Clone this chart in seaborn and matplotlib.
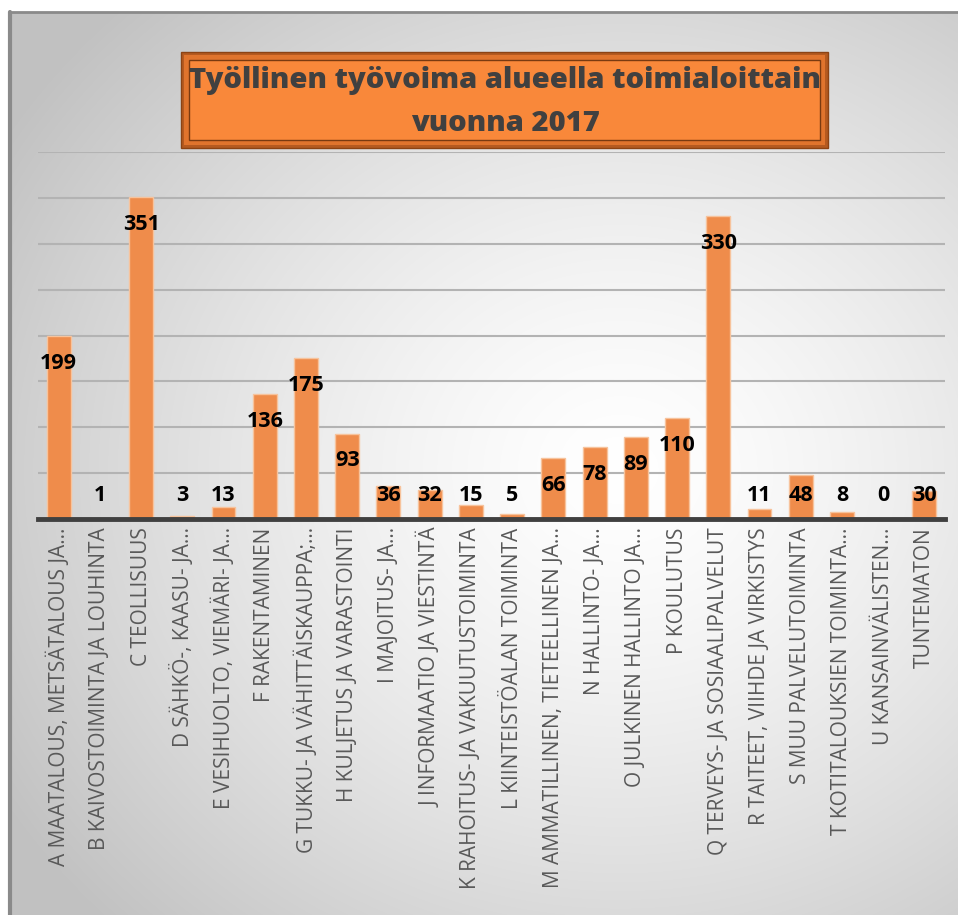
import numpy as np
import matplotlib.pyplot as plt
import seaborn as sns
from matplotlib.patches import Rectangle

# === data ===
categories = [
    "A MAATALOUS, METSÄTALOUS JA…",
    "B KAIVOSTOIMINTA JA LOUHINTA",
    "C TEOLLISUUS",
    "D SÄHKÖ-, KAASU- JA…",
    "E VESIHUOLTO, VIEMÄRI- JA…",
    "F RAKENTAMINEN",
    "G TUKKU- JA VÄHITTÄISKAUPPA;…",
    "H KULJETUS JA VARASTOINTI",
    "I MAJOITUS- JA…",
    "J INFORMAATIO JA VIESTINTÄ",
    "K RAHOITUS- JA VAKUUTUSTOIMINTA",
    "L KIINTEISTÖALAN TOIMINTA",
    "M AMMATILLINEN, TIETEELLINEN JA…",
    "N HALLINTO- JA…",
    "O JULKINEN HALLINTO JA…",
    "P KOULUTUS",
    "Q TERVEYS- JA SOSIAALIPALVELUT",
    "R TAITEET, VIIHDE JA VIRKISTYS",
    "S MUU PALVELUTOIMINTA",
    "T KOTITALOUKSIEN TOIMINTA…",
    "U KANSAINVÄLISTEN…",
    "TUNTEMATON",
]
values = [199, 1, 351, 3, 13, 136, 175, 93, 36, 32, 15, 5,
          66, 78, 89, 110, 330, 11, 48, 8, 0, 30]
title = "Työllinen työvoima alueella toimialoittain\nvuonna 2017"

sns.set_theme(style="white")
plt.rcParams['font.family'] = ['Open Sans', 'DejaVu Sans']

W, H = 958, 915
fig = plt.figure(figsize=(W / 100, H / 100), dpi=100)

# --- background: grey radial gradient with a frame on left/top ---
bg = fig.add_axes([0, 0, 1, 1], zorder=-10)
yy, xx = np.mgrid[0:H, 0:W]
r = np.sqrt(((xx - 620) / 720) ** 2 + ((yy - 470) / 640) ** 2)
shade = 1 - 0.24 * np.clip(r, 0, 1) ** 1.4
img = np.dstack([shade] * 3)
img[:12, :, :] = 1
img[:, :9, :] = 1
bg.imshow(img, extent=[0, W, H, 0], aspect='auto')
bg.plot([10, 10], [12, H], color='#8a8a8a', lw=3)
bg.plot([9, W], [12, 12], color='#8a8a8a', lw=2)
bg.set_xlim(0, W)
bg.set_ylim(H, 0)
bg.axis('off')

# --- title box with a bevelled look ---
bg.add_patch(Rectangle((181, 52), 647, 96, facecolor='#b55a20', edgecolor='#8c4314', lw=1))
bg.add_patch(Rectangle((184, 55), 641, 90, facecolor='#e0742d', edgecolor='none'))
bg.add_patch(Rectangle((189, 60), 631, 80, facecolor='#f9883a', edgecolor='#7a3a10', lw=1))
bg.text(505, 102, title, ha='center', va='center', fontsize=21, fontweight='heavy',
        color='#404040', linespacing=1.6)

# --- bars ---
ax = fig.add_axes([38 / W, 1 - 519 / H, 907 / W, (519 - 152) / H])
ax.patch.set_alpha(0)
sns.barplot(x=categories, y=values, color='#ef8c4b', width=0.58, saturation=1,
            edgecolor='#f7c39c', linewidth=1, ax=ax, zorder=3)

ax.set_xlim(-0.5, len(categories) - 0.5)
ax.set_ylim(0, 400)
ax.set_yticks(range(0, 401, 50))
ax.set_yticklabels([])
ax.yaxis.grid(True, color='#b3b3b3', lw=1.5, zorder=0)
ax.set_axisbelow(True)
for s in ['top', 'left', 'right']:
    ax.spines[s].set_visible(False)
ax.spines['bottom'].set_color('#404040')
ax.spines['bottom'].set_linewidth(3.5)
ax.spines['bottom'].set_zorder(5)

ax.set_xticks(range(len(categories)))
ax.set_xticklabels(categories, rotation=90, fontsize=15, color='#595959')
ax.tick_params(axis='x', length=0, pad=6)
ax.tick_params(axis='y', length=0)
ax.set_xlabel('')
ax.set_ylabel('')

# value labels: inside end, kept above the baseline for small bars
for i, v in enumerate(values):
    ax.text(i, max(v - 29.5, 26), str(v), ha='center', va='center',
            fontsize=15.5, fontweight='bold', color='black', zorder=6)

fig.savefig('out.png', dpi=100)
